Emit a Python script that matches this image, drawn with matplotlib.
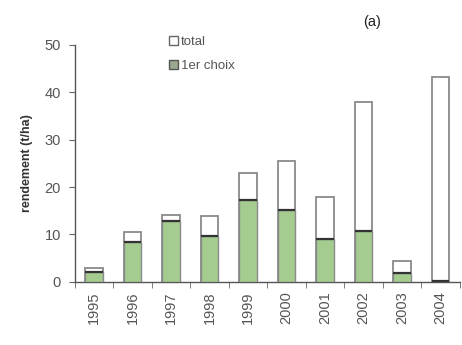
import matplotlib
matplotlib.use("Agg")
import matplotlib.pyplot as plt
import numpy as np
from matplotlib.patches import Patch

years = ["1995", "1996", "1997", "1998", "1999", "2000", "2001", "2002", "2003", "2004"]
total = [2.9, 10.6, 14.1, 14.0, 23.0, 25.5, 18.0, 38.0, 4.4, 43.3]
premier_choix = [2.0, 8.5, 12.9, 9.6, 17.3, 15.2, 9.0, 10.8, 1.8, 0.2]
y_ticks = [0, 10, 20, 30, 40, 50]

plt.rcParams['font.family'] = ['Liberation Sans', 'DejaVu Sans']

fig = plt.figure(figsize=(4.62, 3.45), dpi=100)
ax = fig.add_axes([0.162, 0.183, 0.833, 0.687])

x = np.arange(len(years))
w = 0.45
green = '#a3cc8e'
edge = '#8a8a8a'

ax.bar(x, total, width=w, color='white', edgecolor=edge, linewidth=1.3, zorder=2)
ax.bar(x, premier_choix, width=w, color=green, edgecolor=edge, linewidth=1.0, zorder=3)
ax.hlines(premier_choix, x - w / 2, x + w / 2, colors='#333333', linewidth=1.6, zorder=4)

ax.set_xlim(-0.5, len(years) - 0.5)
ax.set_ylim(0, 50)
ax.set_yticks(y_ticks)
ax.set_yticklabels([str(v) for v in y_ticks])
ax.set_xticks(x)
ax.set_xticklabels(years, rotation=90)
ax.set_xticks(np.arange(len(years) + 1) - 0.5, minor=True)
ax.tick_params(axis='x', which='major', length=0, pad=7)
ax.tick_params(axis='x', which='minor', length=4, color='#666666')
ax.tick_params(axis='y', length=4, color='#666666', pad=6)
ax.tick_params(labelsize=10.5, labelcolor='#555555')

for s in ['top', 'right']:
    ax.spines[s].set_visible(False)
for s in ['left', 'bottom']:
    ax.spines[s].set_color('#555555')
    ax.spines[s].set_linewidth(1.0)

ax.set_ylabel('rendement (t/ha)', fontsize=9, fontweight='bold', color='#333333', labelpad=8)

handles = [Patch(facecolor='white', edgecolor='#666666', linewidth=1.0, label='total'),
           Patch(facecolor='#9aa890', edgecolor='#555555', linewidth=1.0, label='1er choix')]
leg = ax.legend(handles=handles, loc='upper left', bbox_to_anchor=(0.23, 1.06), frameon=False,
                fontsize=9.5, handlelength=0.7, handleheight=0.7, handletextpad=0.2,
                labelspacing=0.9, borderaxespad=0)
for t in leg.get_texts():
    t.set_color('#555555')

fig.text(0.785, 0.925, '(a)', fontsize=10.5, color='#222222')

fig.savefig('out.png', dpi=100)
